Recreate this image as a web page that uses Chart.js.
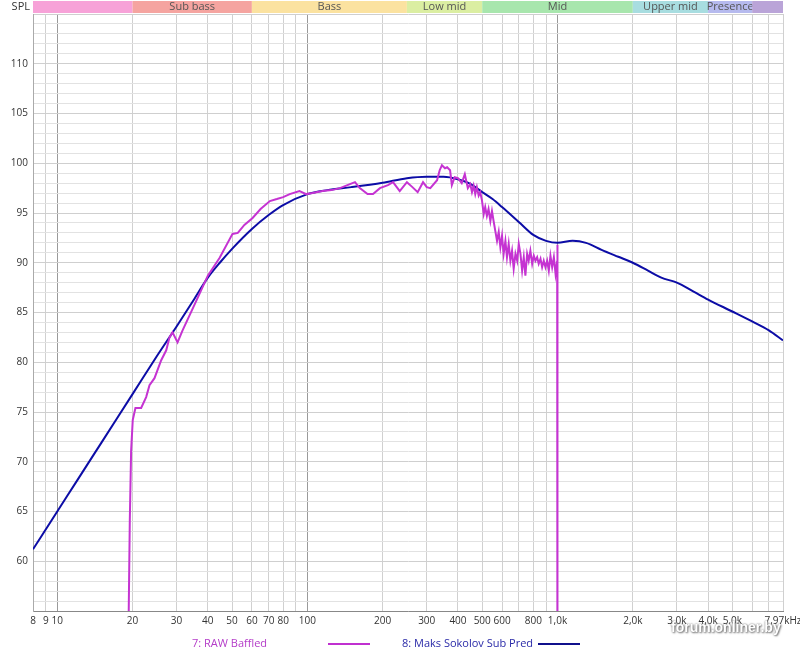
<!DOCTYPE html>
<html lang="en">
<head>
  <meta charset="UTF-8" />
  <title>SPL</title>
  <script src="https://cdn.jsdelivr.net/npm/chart.js"></script>
  <style>
    body { margin: 0; background: #fff; font-family: "Open Sans", sans-serif; }
    #wrap { position: relative; width: 800px; height: 653px; overflow: hidden; }
    .leg { position: absolute; font-size: 11px; top: 635px; }
    .legline { position: absolute; height: 2px; top: 643px; }
    #wm { position: absolute; left: 671px; top: 619px; font: bold 14px "Liberation Sans", sans-serif;
          color: #fff; text-shadow: 0 0 2px #666, 1px 1px 2px #777; }
  </style>
</head>
<body>
  <div id="wrap">
    <canvas id="c" width="800" height="653"></canvas>
    <div class="leg" style="left:192px;color:#b43cc8">7: RAW Baffled</div>
    <div class="legline" style="left:328px;width:42px;background:#c030d0"></div>
    <div class="leg" style="left:402px;color:#2a2aa8">8: Maks Sokolov Sub Pred</div>
    <div class="legline" style="left:538px;width:42px;background:#10108c"></div>
    <div id="wm">forum.onliner.by</div>
  </div>

  <script>
    // frequency bands on top
    const bandEdges = [8, 20, 60, 250, 500, 2000, 4000, 6000, 7970];
    const bandNames = ["", "Sub bass", "Bass", "Low mid", "Mid", "Upper mid", "Presence", ""];
    const bandColors = ["#f7a2d8", "#f5a4a0", "#fbe2a0", "#dbeea2", "#a8e6ad", "#a8dde0", "#b6baee", "#baa4d8"];

    // x grid / ticks
    const gridFreqs = [8, 9, 10, 20, 30, 40, 50, 60, 70, 80, 90, 100, 200, 300, 400, 500, 600, 700, 800, 900,
                       1000, 2000, 3000, 4000, 5000, 6000, 7000, 7970];
    const tickLabels = {8: "8", 9: "9", 10: "10", 20: "20", 30: "30", 40: "40", 50: "50", 60: "60", 70: "70",
                        80: "80", 100: "100", 200: "200", 300: "300", 400: "400", 500: "500", 600: "600",
                        800: "800", 1000: "1,0k", 2000: "2,0k", 3000: "3,0k", 4000: "4,0k", 5000: "5,0k",
                        7970: "7,97kHz"};

    // 8: Maks Sokolov Sub Pred
    const predFreq = [8, 10, 12, 15, 20, 25, 30, 35, 40, 45, 50, 60, 70, 80, 100, 120, 150, 200, 250, 300, 350,
                      400, 450, 500, 550, 600, 700, 800, 900, 1000, 1150, 1300, 1500, 1750, 2000, 2300, 2600,
                      3000, 3500, 4000, 5000, 6000, 7000, 7970];
    const predSpl = [61.2, 65.0, 68.1, 71.9, 76.8, 80.6, 83.6, 86.2, 88.5, 90.1, 91.4, 93.4, 94.8, 95.8, 96.9,
                     97.3, 97.6, 98.05, 98.5, 98.65, 98.65, 98.4, 97.9, 97.1, 96.4, 95.6, 94.1, 92.8, 92.2, 92.0,
                     92.2, 92.0, 91.3, 90.6, 90.0, 89.2, 88.5, 88.0, 87.1, 86.3, 85.1, 84.1, 83.2, 82.2];

    // 7: RAW Baffled
    const rawFreq = [19.2, 19.31, 19.5, 19.74, 20.04, 20.54, 21.65, 22.67, 23.38, 24.48, 26.04, 27.27, 28.11,
                     28.9, 30.27, 31.7, 36.0, 40, 44.6, 50.2, 52.7, 56, 60.4, 65, 70.8, 75.5, 80, 85, 93, 99,
                     105, 115, 125, 135, 148, 155, 162, 174, 183, 195, 210, 220, 234, 250, 263, 276, 290, 300,
                     310, 330, 338, 345, 355, 362, 372, 378, 388, 400, 414, 426, 438,
                     448, 455, 462, 469, 476, 484, 491, 499, 507, 514, 522, 530, 539, 547, 556, 564, 573, 582,
                     591, 600, 609, 619, 628, 638, 648, 658, 668, 679, 690, 700, 711, 722, 733, 744, 756, 767,
                     779, 792, 804, 816, 829, 841, 855, 868, 881, 895, 909, 923, 937, 952, 967, 982, 997, 999, 1000];
    const rawSpl = [40, 55, 64, 71.1, 74.2, 75.4, 75.4, 76.5, 77.7, 78.4, 80.2, 81.2, 82.5,
                    83.0, 82.0, 83.2, 86.2, 88.7, 90.5, 92.9, 93.0, 93.8, 94.5, 95.4, 96.2, 96.4, 96.6, 96.9, 97.2, 96.9,
                    97.0, 97.2, 97.3, 97.5, 97.9, 98.1, 97.5, 96.9, 96.9, 97.5, 97.8, 98.1, 97.2, 98.1, 97.6, 97.1, 98.1, 97.6,
                    97.5, 98.3, 99.3, 99.8, 99.5, 99.6, 99.3, 97.8, 98.6, 98.5, 98.0, 98.9, 97.5,
                    97.9, 97.1, 97.75, 96.9, 97.6, 96.75, 97.1, 96.25, 94.9, 95.6, 94.7, 95.4, 94.2, 95.2, 94.1, 93.2, 92.2, 93.1,
                    91.55, 92.7, 90.9, 92.2, 90.55, 91.9, 90.2, 91.2, 89.4, 90.9, 90.2, 91.9, 90.9, 89.2, 90.55, 88.7, 90.9, 90.2,
                    91.2, 89.9, 90.7, 90.2, 90.55, 89.9, 90.4, 89.55, 90.2, 89.55, 90.2, 89.2, 90.7, 89.55, 90.55, 88.9, 90.2, 91.8, 40];

    const toPts = (xs, ys) => xs.map((x, i) => ({ x: x, y: ys[i] }));
    const font = { family: "Open Sans", size: 10 };

    const bandPlugin = {
      id: "bands",
      afterDraw(chart) {
        const ctx = chart.ctx, xs = chart.scales.x;
        ctx.save();
        ctx.font = "11px 'Open Sans'";
        ctx.textBaseline = "middle";
        for (let i = 0; i < bandNames.length; i++) {
          const a = xs.getPixelForValue(bandEdges[i]), b = xs.getPixelForValue(bandEdges[i + 1]);
          ctx.fillStyle = bandColors[i];
          ctx.fillRect(a, 1, b - a, 12);
          ctx.fillStyle = "#555";
          ctx.textAlign = "center";
          ctx.fillText(bandNames[i], (a + b) / 2, 7);
        }
        ctx.fillStyle = "#333";
        ctx.textAlign = "right";
        ctx.fillText("SPL", 30, 7);
        ctx.restore();
      }
    };

    new Chart(document.getElementById("c"), {
      type: "line",
      data: {
        datasets: [
          {
            label: "7: RAW Baffled",
            data: toPts(rawFreq, rawSpl),
            borderColor: "#c533d2",
            borderWidth: 2,
            pointRadius: 0,
            tension: 0
          },
          {
            label: "8: Maks Sokolov Sub Pred",
            data: toPts(predFreq, predSpl),
            borderColor: "#0c0ca6",
            borderWidth: 2,
            pointRadius: 0,
            cubicInterpolationMode: "monotone"
          }
        ]
      },
      options: {
        responsive: false,
        animation: false,
        layout: { padding: { top: 14, right: 17, left: 0, bottom: 0 } },
        plugins: { legend: { display: false }, tooltip: { enabled: false } },
        scales: {
          x: {
            type: "logarithmic",
            min: 8,
            max: 7970,
            afterBuildTicks: s => { s.ticks = gridFreqs.map(v => ({ value: v })); },
            afterFit: s => { s.height = 42; s.paddingLeft = 0; s.paddingRight = 0; },
            ticks: {
              autoSkip: false,
              maxRotation: 0,
              padding: 4,
              color: "#333",
              font: font,
              callback: v => tickLabels[v] || ""
            },
            grid: {
              drawTicks: false,
              color: c => ([10, 100, 1000].includes(c.tick && c.tick.value) ? "#9a9a9a" : "#d0d0d0")
            },
            border: { color: "#888" }
          },
          y: {
            min: 55,
            max: 115,
            afterFit: s => { s.width = 33; },
            ticks: {
              stepSize: 1,
              autoSkip: false,
              padding: 5,
              color: "#333",
              font: font,
              callback: v => (v % 5 === 0 && v >= 60 && v <= 110 ? v : "")
            },
            grid: {
              drawTicks: false,
              color: c => (c.tick && c.tick.value % 5 === 0 ? "#cfcfcf" : "#e2e2e2")
            },
            border: { color: "#aaa" }
          }
        }
      },
      plugins: [bandPlugin]
    });
  </script>
</body>
</html>
